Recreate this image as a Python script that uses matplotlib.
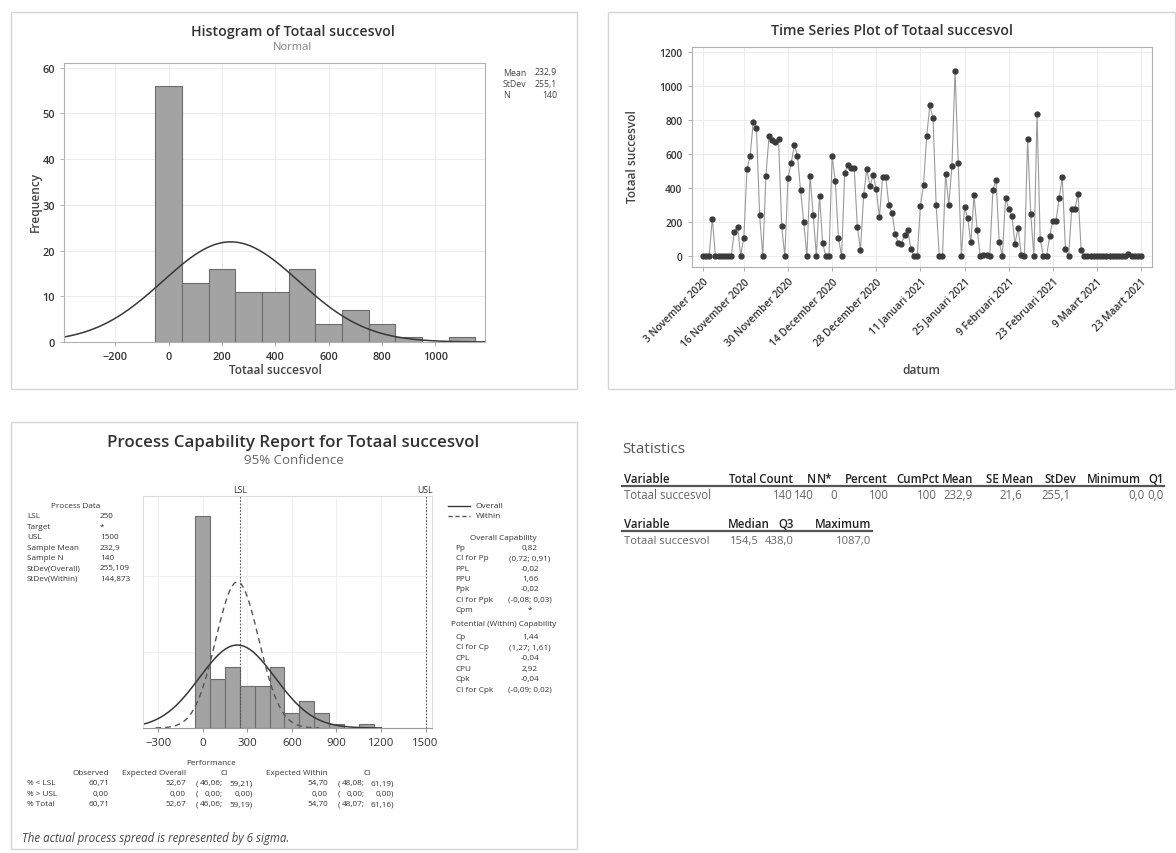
import numpy as np
import pandas as pd
import matplotlib
matplotlib.use("Agg")
import matplotlib.pyplot as plt
from matplotlib.patches import Rectangle
from matplotlib.lines import Line2D

plt.rcParams['font.family'] = ['Open Sans', 'DejaVu Sans']

# ---------------------------------------------------------------- data
totaal_succesvol = [
    0, 0, 3, 222, 0, 0, 0, 0, 0, 2,
    145, 175, 5, 110, 510, 590, 790, 755, 245, 0,
    470, 708, 680, 672, 690, 180, 0, 460, 545, 652,
    590, 388, 200, 0, 472, 243, 5, 355, 80, 0,
    0, 588, 444, 110, 0, 490, 535, 520, 520, 175,
    37, 360, 510, 413, 475, 393, 230, 463, 467, 300,
    257, 130, 80, 75, 125, 152, 45, 0, 0, 295,
    420, 705, 885, 810, 300, 0, 0, 485, 301, 530,
    1087, 550, 0, 290, 225, 83, 357, 157, 0, 10,
    8, 5, 390, 448, 83, 0, 345, 280, 238, 75,
    168, 8, 0, 690, 248, 0, 832, 100, 0, 0,
    122, 210, 208, 340, 465, 43, 0, 275, 280, 365,
    35, 0, 0, 0, 0, 0, 0, 0, 0, 0,
    0, 0, 0, 0, 0, 12, 0, 0, 0, 5,
]
datum = pd.date_range("2020-11-03", "2021-03-23").drop(pd.Timestamp("2021-02-01"))
maanden = {11: "November", 12: "December", 1: "Januari", 2: "Februari", 3: "Maart"}

mean_val = 232.9
stdev_overall = 255.109
stdev_within = 144.873
n_obs = 140
lsl = 250
usl = 1500
bin_edges = np.arange(-50, 1151, 100)
bin_width = 100

hist_stats = [("Mean", "232,9"), ("StDev", "255,1"), ("N", "140")]

process_data = [("LSL", "250"), ("Target", "*"), ("USL", "1500"),
                ("Sample Mean", "232,9"), ("Sample N", "140"),
                ("StDev(Overall)", "255,109"), ("StDev(Within)", "144,873")]

overall_cap = [("Pp", "0,82"), ("CI for Pp", "(0,72; 0,91)"), ("PPL", "-0,02"),
               ("PPU", "1,66"), ("Ppk", "-0,02"), ("CI for Ppk", "(-0,08; 0,03)"),
               ("Cpm", "*")]
within_cap = [("Cp", "1,44"), ("CI for Cp", "(1,27; 1,61)"), ("CPL", "-0,04"),
              ("CPU", "2,92"), ("Cpk", "-0,04"), ("CI for Cpk", "(-0,09; 0,02)")]

perf_rows = ["% < LSL", "% > USL", "% Total"]
perf_observed = ["60,71", "0,00", "60,71"]
perf_exp_overall = ["52,67", "0,00", "52,67"]
perf_ci_overall = [("46,06", "59,21"), ("0,00", "0,00"), ("46,06", "59,19")]
perf_exp_within = ["54,70", "0,00", "54,70"]
perf_ci_within = [("48,08", "61,19"), ("0,00", "0,00"), ("48,07", "61,16")]

stats_header1 = ["Variable", "Total Count", "N", "N*", "Percent", "CumPct",
                 "Mean", "SE Mean", "StDev", "Minimum", "Q1"]
stats_values1 = ["Totaal succesvol", "140", "140", "0", "100", "100",
                 "232,9", "21,6", "255,1", "0,0", "0,0"]
stats_header2 = ["Variable", "Median", "Q3", "Maximum"]
stats_values2 = ["Totaal succesvol", "154,5", "438,0", "1087,0"]

# ---------------------------------------------------------------- figure
W, H = 1176, 854
fig = plt.figure(figsize=(W / 100, H / 100), dpi=100)
fig.patch.set_facecolor("white")

TXT = "#333333"
GRID = "#ececec"
SPINE = "#b0b0b0"
BAR = "#a3a3a3"
BAR_EDGE = "#6c6c6c"


def ftext(x, y, s, **kw):
    kw.setdefault("va", "center")
    kw.setdefault("color", TXT)
    fig.text(x / W, 1 - y / H, s, **kw)


def add_axes_px(left, top, right, bottom):
    return fig.add_axes([left / W, 1 - bottom / H, (right - left) / W, (bottom - top) / H])


def panel_box(left, top, right, bottom):
    fig.patches.append(Rectangle((left / W, 1 - bottom / H), (right - left) / W,
                                 (bottom - top) / H, transform=fig.transFigure,
                                 fill=False, edgecolor="#d6d6d6", lw=1.0))


def style_axes(ax):
    for sp in ax.spines.values():
        sp.set_color(SPINE)
        sp.set_linewidth(0.8)
    ax.tick_params(colors=SPINE, labelcolor=TXT, length=3, width=0.7)
    ax.set_axisbelow(True)


def normal_pdf(x, mu, sd):
    return np.exp(-0.5 * ((x - mu) / sd) ** 2) / (sd * np.sqrt(2 * np.pi))


values = np.array(totaal_succesvol, dtype=float)

# ================================================================ histogram
panel_box(11, 13, 577, 390)
ax1 = add_axes_px(64, 64, 484.5, 343)
style_axes(ax1)
ax1.hist(values, bins=bin_edges, color=BAR, edgecolor=BAR_EDGE, linewidth=0.8)
xs = np.linspace(-392, 1184, 400)
ax1.plot(xs, normal_pdf(xs, mean_val, 255.1) * n_obs * bin_width, color="#383838", lw=1.1)
ax1.set_xlim(-392, 1184)
ax1.set_ylim(0, 61)
ax1.set_xticks(np.arange(-200, 1001, 200))
ax1.set_yticks(np.arange(0, 61, 10))
ax1.grid(True, color=GRID, lw=0.7)
ax1.tick_params(labelsize=7.8)
for lab in ax1.get_xticklabels() + ax1.get_yticklabels():
    lab.set_fontweight("semibold")
ftext(293, 32, "Histogram of Totaal succesvol", ha="center", fontsize=10.2, fontweight="semibold")
ftext(293, 47, "Normal", ha="center", fontsize=8, color="#808080")
ftext(275, 371, "Totaal succesvol", ha="center", fontsize=8.6, fontweight="semibold", color="#444444")
ftext(35, 202, "Frequency", ha="center", rotation=90, fontsize=8.6, fontweight="semibold", color="#444444")
for i, (lab, val) in enumerate(hist_stats):
    y = 73 + i * 11.3
    ftext(503, y, lab, ha="left", fontsize=6.3, color="#444444")
    ftext(557, y, val, ha="right", fontsize=6.3, color="#444444")

# ================================================================ time series
panel_box(608, 13, 1175, 390)
ax2 = add_axes_px(691.5, 48, 1151.5, 268)
style_axes(ax2)
idx = np.arange(len(values))
ax2.plot(idx, values, color="#9a9a9a", lw=0.8, marker="o", ms=3.5,
         mfc="#3a3a3a", mec="#3a3a3a", zorder=3)
ax2.set_xlim(-3.6, len(values) + 2.3)
ax2.set_ylim(-62, 1227)
ax2.set_yticks(np.arange(0, 1201, 200))
tick_idx = np.floor(np.linspace(0, len(values) - 1, 11)).astype(int)
ax2.set_xticks(tick_idx)
ax2.set_xticklabels([f"{datum[i].day} {maanden[datum[i].month]} {datum[i].year}" for i in tick_idx],
                    rotation=45, ha="right", rotation_mode="anchor")
ax2.grid(True, color=GRID, lw=0.7)
ax2.tick_params(labelsize=7.3)
for lab in ax2.get_xticklabels() + ax2.get_yticklabels():
    lab.set_fontweight("semibold")
ftext(892, 31, "Time Series Plot of Totaal succesvol", ha="center", fontsize=10.2, fontweight="semibold")
ftext(921, 371, "datum", ha="center", fontsize=8.6, fontweight="semibold", color="#444444")
ftext(632, 157, "Totaal succesvol", ha="center", rotation=90, fontsize=8.6,
      fontweight="semibold", color="#444444")

# ================================================================ capability
panel_box(11, 423, 577, 850)
ax3 = add_axes_px(142.7, 496.7, 431.8, 729)
for sp in ax3.spines.values():
    sp.set_color("#dcdcdc")
    sp.set_linewidth(0.8)
ax3.spines["bottom"].set_color("#9a9a9a")
ax3.set_axisbelow(True)
ax3.hist(values, bins=bin_edges, color=BAR, edgecolor=BAR_EDGE, linewidth=0.8)
xo = np.linspace(-404, mean_val + 3.8 * stdev_overall, 400)
ax3.plot(xo, normal_pdf(xo, mean_val, stdev_overall) * n_obs * bin_width, color="#383838", lw=1.1)
xw = np.linspace(mean_val - 3.8 * stdev_within, mean_val + 3.8 * stdev_within, 300)
ax3.plot(xw, normal_pdf(xw, mean_val, stdev_within) * n_obs * bin_width, color="#555555",
         lw=1.0, ls=(0, (4, 3)))
ax3.axvline(lsl, color="#555555", lw=0.8, ls=(0, (1.5, 1.5)))
ax3.axvline(usl, color="#555555", lw=0.8, ls=(0, (1.5, 1.5)))
ax3.set_xlim(-404, 1542)
ax3.set_ylim(0, 61.3)
ax3.set_xticks(np.arange(-300, 1501, 300))
ax3.set_yticks([20, 40])
ax3.tick_params(axis="y", left=False, labelleft=False)
ax3.tick_params(axis="x", colors="#9a9a9a", labelcolor=TXT, labelsize=8.2, length=3)
ax3.grid(True, color="#f0f0f0", lw=0.7)
ax3.text(lsl, 1.008, "LSL", transform=ax3.get_xaxis_transform(), ha="center", va="bottom",
         fontsize=6.3, color=TXT)
ax3.text(usl, 1.008, "USL", transform=ax3.get_xaxis_transform(), ha="center", va="bottom",
         fontsize=6.3, color=TXT)

ftext(293.6, 443, "Process Capability Report for Totaal succesvol", ha="center",
      fontsize=12.2, fontweight="semibold")
ftext(293.6, 461, "95% Confidence", ha="center", fontsize=9.5, color="#666666")

# legend
fig.lines.append(Line2D([448 / W, 470 / W], [1 - 506.7 / H] * 2, transform=fig.transFigure,
                        color="#383838", lw=1.0))
fig.lines.append(Line2D([448 / W, 470 / W], [1 - 516.7 / H] * 2, transform=fig.transFigure,
                        color="#555555", lw=1.0, ls=(0, (3, 2))))
ftext(475.5, 506.7, "Overall", ha="left", fontsize=6)
ftext(475.5, 516.7, "Within", ha="left", fontsize=6)

SMALL = 5.9
# process data
ftext(76, 506.7, "Process Data", ha="center", fontsize=SMALL)
for i, (lab, val) in enumerate(process_data):
    y = 517 + i * 10.4
    ftext(27, y, lab, ha="left", fontsize=SMALL)
    ftext(99.8, y, val, ha="left", fontsize=SMALL)

# overall / within capability
ftext(503.5, 538, "Overall Capability", ha="center", fontsize=SMALL)
for i, (lab, val) in enumerate(overall_cap):
    y = 548.3 + i * 10.4
    ftext(455.5, y, lab, ha="left", fontsize=SMALL)
    ftext(530, y, val, ha="center", fontsize=SMALL)
ftext(503.5, 624.3, "Potential (Within) Capability", ha="center", fontsize=SMALL)
for i, (lab, val) in enumerate(within_cap):
    y = 637.3 + i * 10.6
    ftext(455.5, y, lab, ha="left", fontsize=SMALL)
    ftext(530, y, val, ha="center", fontsize=SMALL)

# performance table
ftext(211, 763.3, "Performance", ha="center", fontsize=SMALL)
ftext(109, 773.3, "Observed", ha="right", fontsize=SMALL)
ftext(186, 773.3, "Expected Overall", ha="right", fontsize=SMALL)
ftext(224.5, 773.3, "CI", ha="center", fontsize=SMALL)
ftext(328, 773.3, "Expected Within", ha="right", fontsize=SMALL)
ftext(367, 773.3, "CI", ha="center", fontsize=SMALL)
for i, lab in enumerate(perf_rows):
    y = 784 + i * 10.5
    ftext(27, y, lab, ha="left", fontsize=SMALL)
    ftext(109, y, perf_observed[i], ha="right", fontsize=SMALL)
    ftext(186, y, perf_exp_overall[i], ha="right", fontsize=SMALL)
    ftext(196, y, "(", ha="left", fontsize=SMALL)
    ftext(223, y, perf_ci_overall[i][0] + ";", ha="right", fontsize=SMALL)
    ftext(253, y, perf_ci_overall[i][1] + ")", ha="right", fontsize=SMALL)
    ftext(328, y, perf_exp_within[i], ha="right", fontsize=SMALL)
    ftext(337.5, y, "(", ha="left", fontsize=SMALL)
    ftext(365, y, perf_ci_within[i][0] + ";", ha="right", fontsize=SMALL)
    ftext(394, y, perf_ci_within[i][1] + ")", ha="right", fontsize=SMALL)

ftext(21.6, 839, "The actual process spread is represented by 6 sigma.", ha="left",
      fontsize=8.3, style="italic", color="#444444")

# ================================================================ statistics
ftext(622.7, 450, "Statistics", ha="left", fontsize=11, color="#555555")

HDR = 8.3
head1_pos = [(623.5, "left"), (793, "right"), (816, "right"), (832, "right"), (888, "right"),
             (939, "right"), (973.6, "right"), (1033.6, "right"), (1076.5, "right"),
             (1141, "right"), (1163.5, "right")]
val1_pos = [(623.5, "left"), (793, "right"), (813.6, "right"), (834, "center"), (879, "center"),
            (937.3, "right"), (943.5, "left"), (1022, "right"), (1041, "left"),
            (1144.5, "right"), (1163.5, "right")]
for (x, ha), s in zip(head1_pos, stats_header1):
    ftext(x, 480, s, ha=ha, fontsize=HDR, fontweight="semibold", color="#222222")
for (x, ha), s in zip(val1_pos, stats_values1):
    ftext(x, 496, s, ha=ha, fontsize=HDR, color="#666666")
fig.lines.append(Line2D([622 / W, 1164 / W], [1 - 486.5 / H] * 2, transform=fig.transFigure,
                        color="#555555", lw=1.6))

head2_pos = [(623.5, "left"), (770, "right"), (793.6, "right"), (871, "right")]
val2_pos = [(623.5, "left"), (759, "right"), (794, "right"), (871, "right")]
for (x, ha), s in zip(head2_pos, stats_header2):
    ftext(x, 525, s, ha=ha, fontsize=HDR, fontweight="semibold", color="#222222")
for (x, ha), s in zip(val2_pos, stats_values2):
    ftext(x, 541.7, s, ha=ha, fontsize=8.1, color="#666666")
fig.lines.append(Line2D([622 / W, 872 / W], [1 - 531.5 / H] * 2, transform=fig.transFigure,
                        color="#555555", lw=1.6))

fig.savefig("out.png", dpi=100, facecolor="white")
